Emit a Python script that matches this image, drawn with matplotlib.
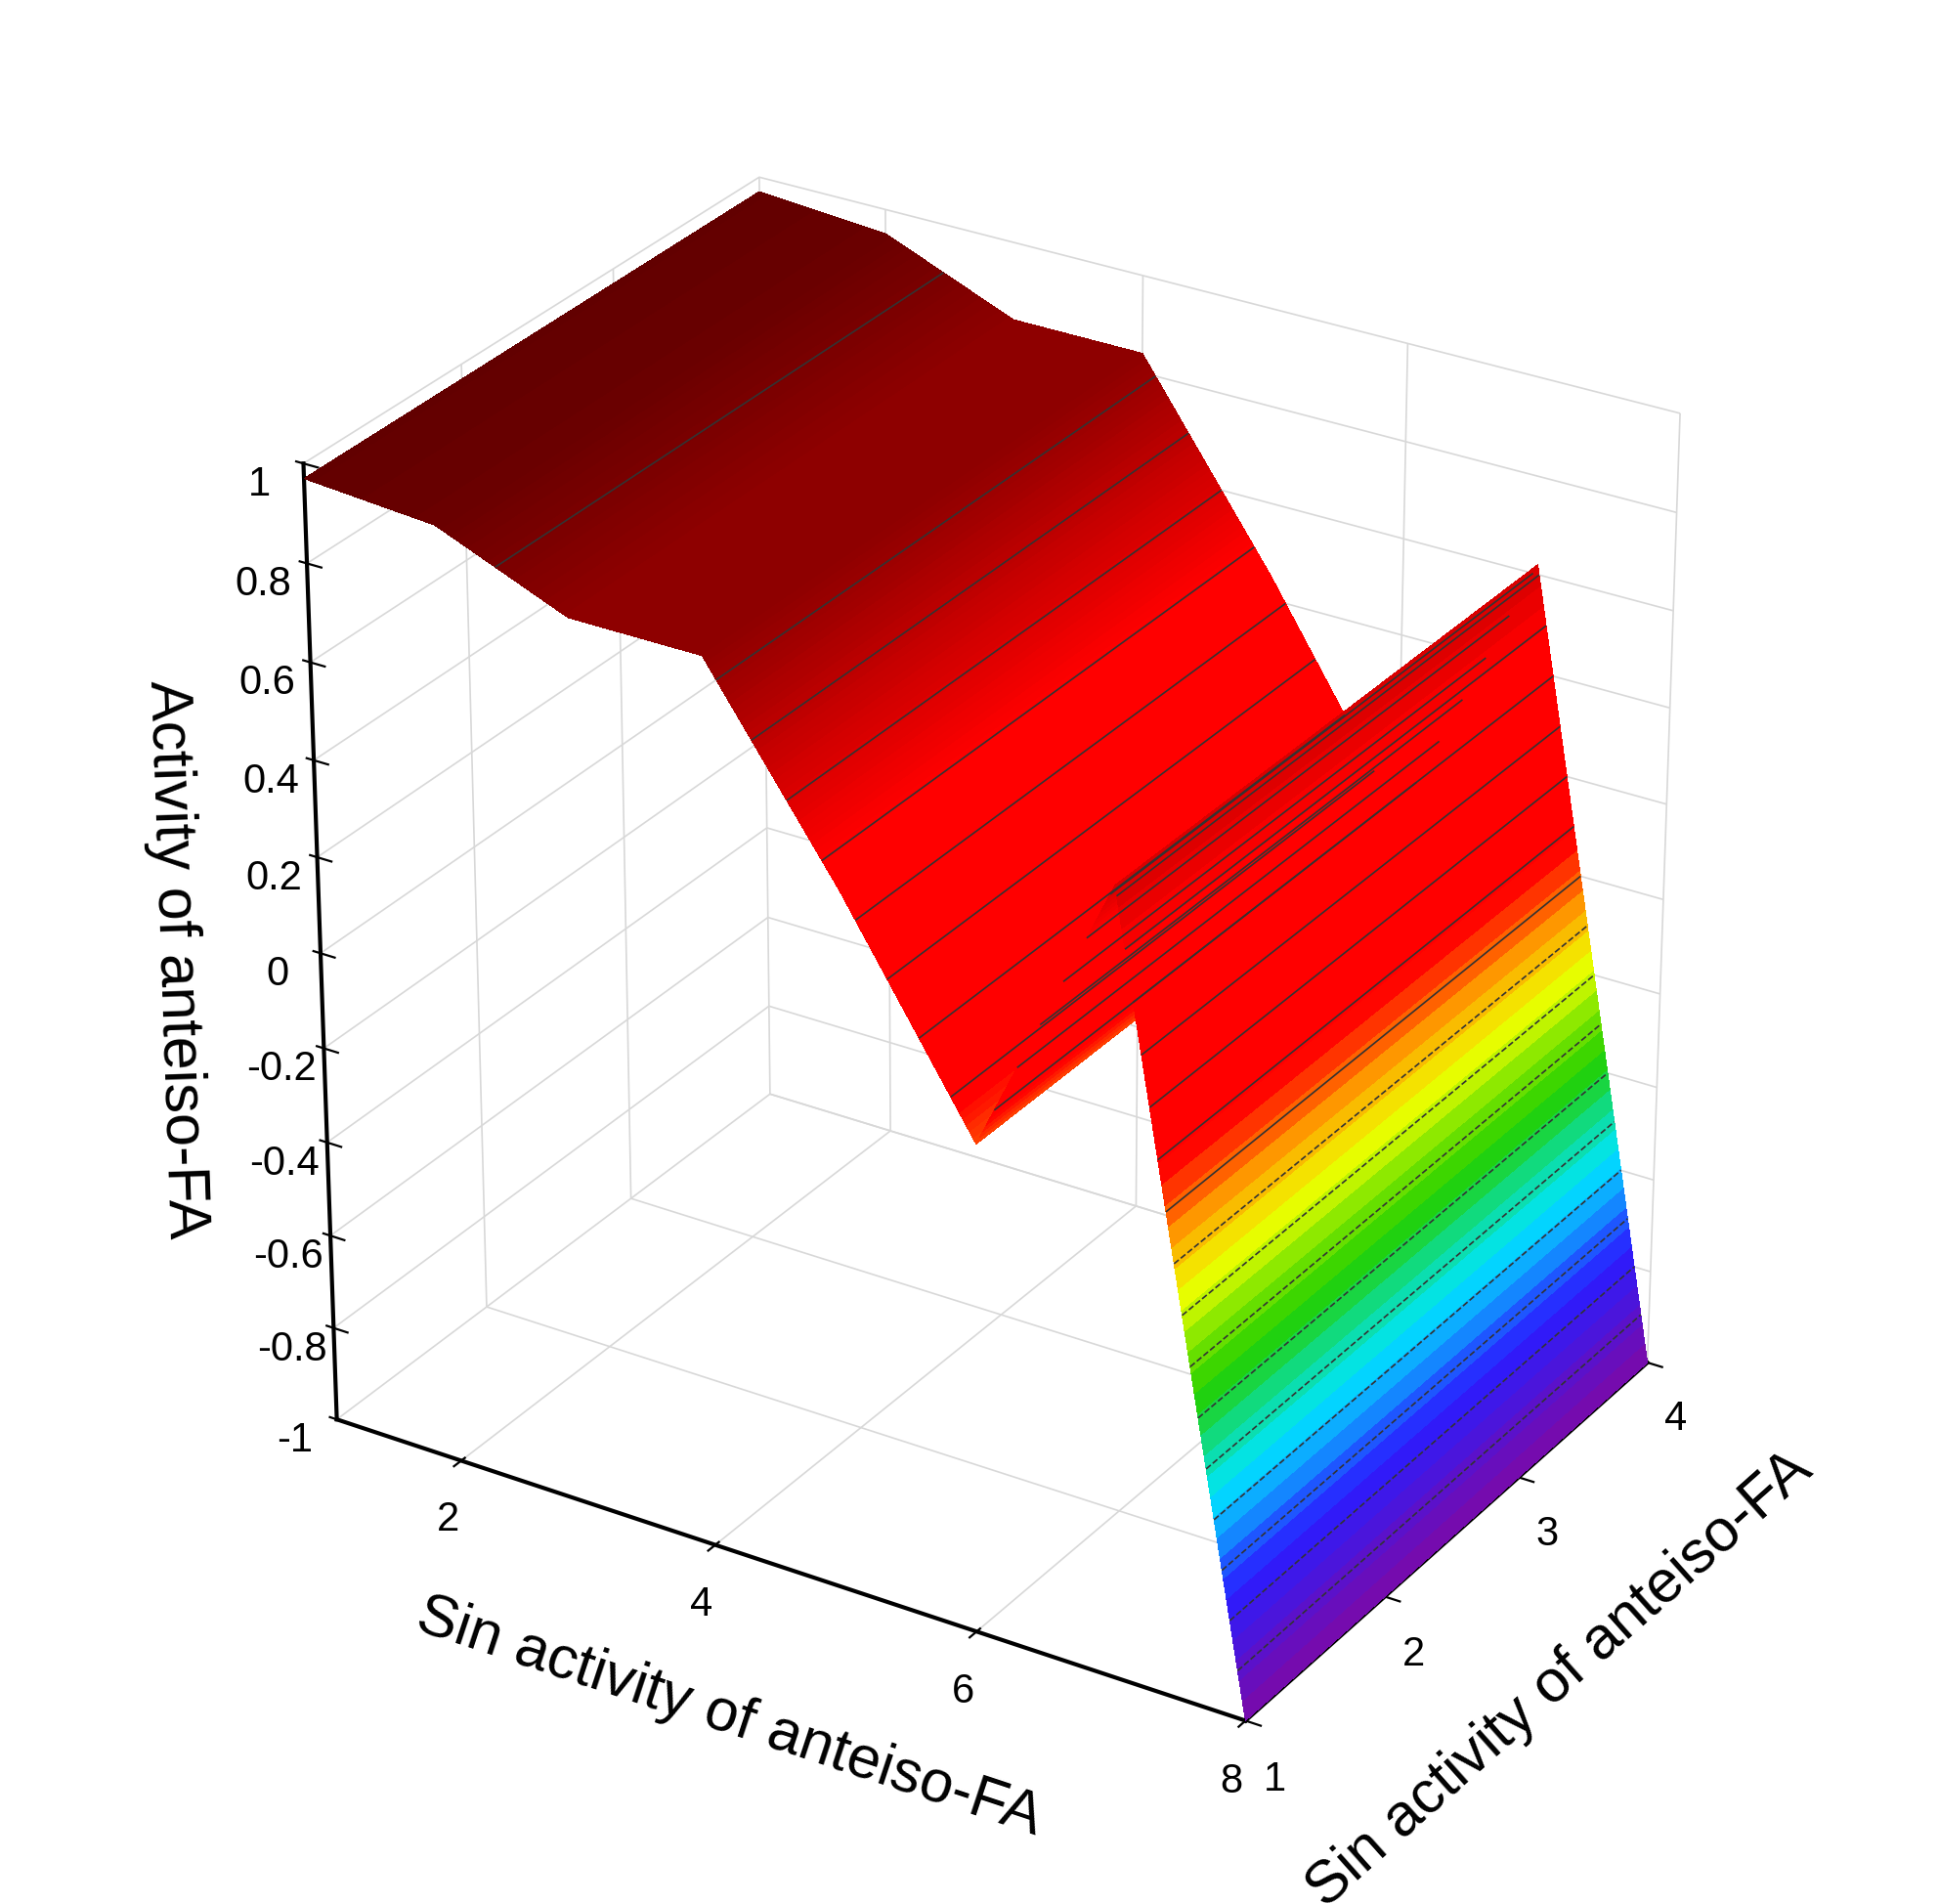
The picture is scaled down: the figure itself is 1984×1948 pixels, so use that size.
import numpy as np
import matplotlib
matplotlib.use("Agg")
import matplotlib.pyplot as plt
from matplotlib.colors import LinearSegmentedColormap

x_vals = [1, 2, 3, 4, 5, 6, 7, 8]
y_vals = [1, 2, 3, 4]
z_profile = [0.97, 0.95, 0.84, 0.84, 0.45, 0.02, 0.62, -1.0]
x_ticks = [2, 4, 6, 8]
y_ticks = [1, 2, 3, 4]
z_ticks = [-1, -0.8, -0.6, -0.4, -0.2, 0, 0.2, 0.4, 0.6, 0.8, 1]

plt.rcParams['font.family'] = ['Liberation Sans', 'DejaVu Sans']
cmap = LinearSegmentedColormap.from_list('rb', [
    (0.0, '#7a0aa8'), (0.12, '#2a1cff'), (0.22, '#00e5ff'), (0.32, '#22d000'),
    (0.42, '#f0ff00'), (0.48, '#ff8c00'), (0.54, '#ff0000'), (0.75, '#ff0000'),
    (1.0, '#5a0000')])

# finer rendering mesh of the same piecewise-linear surface
xf = np.linspace(1, 8, 281)
zf = np.interp(xf, x_vals, z_profile)
yf = np.array(y_vals, dtype=float)
X, Y = np.meshgrid(xf, yf)
Z = np.tile(zf, (len(yf), 1))

fig = plt.figure(figsize=(9.92, 9.74), dpi=200)
ax = fig.add_axes([0, 0, 1, 1], projection='3d', computed_zorder=False)
ax.plot_surface(X, Y, Z, cmap=cmap, vmin=-1, vmax=1, rstride=1, cstride=1,
                linewidth=0, antialiased=False, shade=False, zorder=1)
cs = ax.contour(X, Y, Z, levels=np.arange(-0.9, 1.0, 0.1), colors='#333333',
                linewidths=0.6, zorder=5)

ax.set_xlim(1, 8); ax.set_ylim(1, 4); ax.set_zlim(-1, 1)
ax.set_xticks(x_ticks); ax.set_yticks(y_ticks); ax.set_zticks(z_ticks)
ax.set_zticklabels([f"{t:g}" for t in z_ticks])
for a in (ax.xaxis, ax.yaxis, ax.zaxis):
    a.set_pane_color((1, 1, 1, 0))
    a._axinfo['grid'].update(color='#d8d8d8', linewidth=0.6)
    a.line.set_linewidth(1.5)
ax.zaxis._axinfo['juggled'] = (1, 2, 0)
ax.tick_params(labelsize=15)
ax.set_xlabel('Sin activity of anteiso-FA', fontsize=22, labelpad=22)
ax.set_ylabel('Sin activity of anteiso-FA', fontsize=22, labelpad=22)
ax.set_zlabel('Activity of anteiso-FA', fontsize=22, labelpad=18)
ax.view_init(elev=28, azim=-58)
ax.set_box_aspect((1, 0.75, 1.0), zoom=0.88)
fig.savefig('out.png', dpi=200)
